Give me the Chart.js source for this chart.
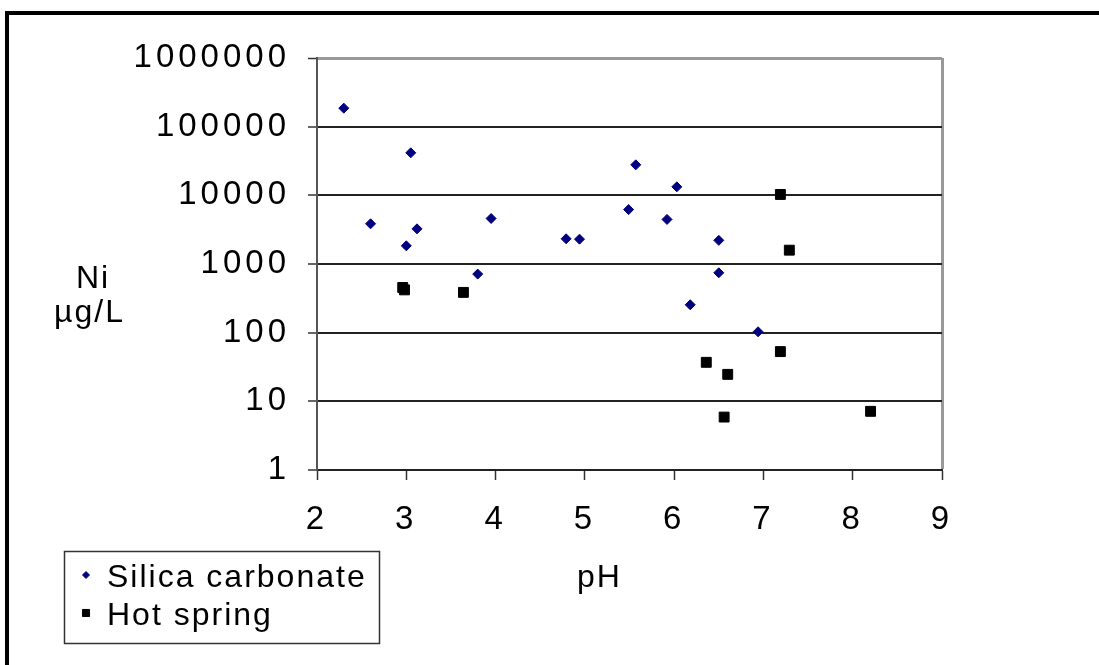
<!DOCTYPE html>
<html>
<head>
<meta charset="utf-8">
<title>Ni vs pH</title>
<script src="https://cdn.jsdelivr.net/npm/chart.js@4.4.1/dist/chart.umd.min.js"></script>
<style>
  html, body { margin: 0; padding: 0; background: #fff; }
  canvas { display: block; }
</style>
</head>
<body>
<canvas id="niChart" width="1099" height="665"></canvas>
<script>
    // values
    const silicaPH = [2.30, 2.60, 3.00, 3.05, 3.12, 3.80, 3.95, 4.79, 4.94, 5.49, 5.57, 5.92, 6.03, 6.18, 6.50, 6.50, 6.94];
    const silicaNi = [186000, 3850, 1840, 41600, 3250, 713, 4600, 2330, 2300, 6200, 27800, 4460, 13300, 255, 2210, 745, 103];
    const springPH = [2.96, 2.98, 3.64, 6.36, 6.56, 6.60, 7.19, 7.19, 7.29, 8.20];
    const springNi = [455, 420, 386, 37, 5.9, 24.7, 10300, 53, 1590, 7.15];
    const yTicks = [1, 10, 100, 1000, 10000, 100000, 1000000];
    const seriesNames = ['Silica carbonate', 'Hot spring'];
    const yTitle = ['Ni', 'µg/L'];
    const xTitle = 'pH';

    const FONT = '"Liberation Sans", Arial, sans-serif';
    Chart.defaults.font.family = FONT;
    Chart.defaults.color = '#000';

    // frame, axis titles and the boxed legend
    const decor = {
      id: 'decor',
      beforeDraw(chart) {
        chart.ctx.letterSpacing = '4px';
      },
      afterDraw(chart) {
        const ctx = chart.ctx;
        ctx.save();
        ctx.fillStyle = '#000';
        ctx.fillRect(5, 11, chart.width, 4);
        ctx.fillRect(5, 11, 4, chart.height);

        ctx.letterSpacing = '2px';
        ctx.font = '32px ' + FONT;
        ctx.textAlign = 'left';
        ctx.textBaseline = 'alphabetic';
        ctx.fillText(yTitle[0], 76, 288);
        ctx.fillText(yTitle[1], 54, 322);
        ctx.fillText(xTitle, 577, 587);

        ctx.strokeStyle = '#333';
        ctx.lineWidth = 1.5;
        ctx.strokeRect(64.5, 551.5, 315, 92);
        chart.data.datasets.forEach((ds, i) => {
          const y = 575 + i * 38;
          ctx.fillStyle = ds.backgroundColor;
          ctx.strokeStyle = ds.borderColor;
          ctx.lineWidth = 1;
          Chart.helpers.drawPoint(ctx, {
            pointStyle: ds.pointStyle, rotation: 0,
            radius: ds.pointStyle === 'rect' ? 5 : 3.5, borderWidth: 1
          }, 86, y);
          ctx.fillStyle = '#000';
          ctx.fillText(ds.label, 107, y + 12);
        });
        ctx.restore();
      }
    };

    new Chart(document.getElementById('niChart'), {
      type: 'scatter',
      data: {
        datasets: [
          {
            label: seriesNames[0],
            data: silicaPH.map((x, i) => ({ x: x, y: silicaNi[i] })),
            pointStyle: 'rectRot',
            radius: 5,
            borderWidth: 1,
            backgroundColor: '#000080',
            borderColor: '#000080'
          },
          {
            label: seriesNames[1],
            data: springPH.map((x, i) => ({ x: x, y: springNi[i] })),
            pointStyle: 'rect',
            radius: 7,
            borderWidth: 1,
            backgroundColor: '#000',
            borderColor: '#000'
          }
        ]
      },
      options: {
        responsive: false,
        animation: false,
        events: [],
        devicePixelRatio: 1,
        layout: { padding: { left: 0, top: 58, right: 157, bottom: 0 } },
        plugins: { legend: { display: false }, tooltip: { enabled: false } },
        scales: {
          x: {
            type: 'linear',
            min: 2,
            max: 9,
            afterFit: (s) => { s.height = 195; },
            ticks: { stepSize: 1, padding: 20, font: { size: 33 }, color: '#000' },
            grid: {
              color: (c) => (c.tick && c.tick.value === 9 ? '#999' : 'rgba(0,0,0,0)'),
              lineWidth: (c) => (c.tick && c.tick.value === 9 ? 3 : 1),
              tickColor: '#333',
              tickLength: 10,
              tickWidth: 1.5
            },
            border: { color: '#222', width: 2 }
          },
          y: {
            type: 'logarithmic',
            min: 1,
            max: 1000000,
            afterFit: (s) => { s.width = 317; },
            afterBuildTicks: (s) => { s.ticks = yTicks.map(v => ({ value: v })); },
            ticks: {
              padding: 18,
              font: { size: 33 },
              color: '#000',
              callback: (v) => String(v)
            },
            grid: {
              color: (c) => (c.tick && c.tick.value === 1000000 ? '#999' : '#222'),
              lineWidth: (c) => (c.tick && c.tick.value === 1000000 ? 3 : 2),
              tickColor: '#333',
              tickLength: 9,
              tickWidth: 1.5
            },
            border: { color: '#555', width: 2 }
          }
        }
      },
      plugins: [decor]
    });
</script>
</body>
</html>
